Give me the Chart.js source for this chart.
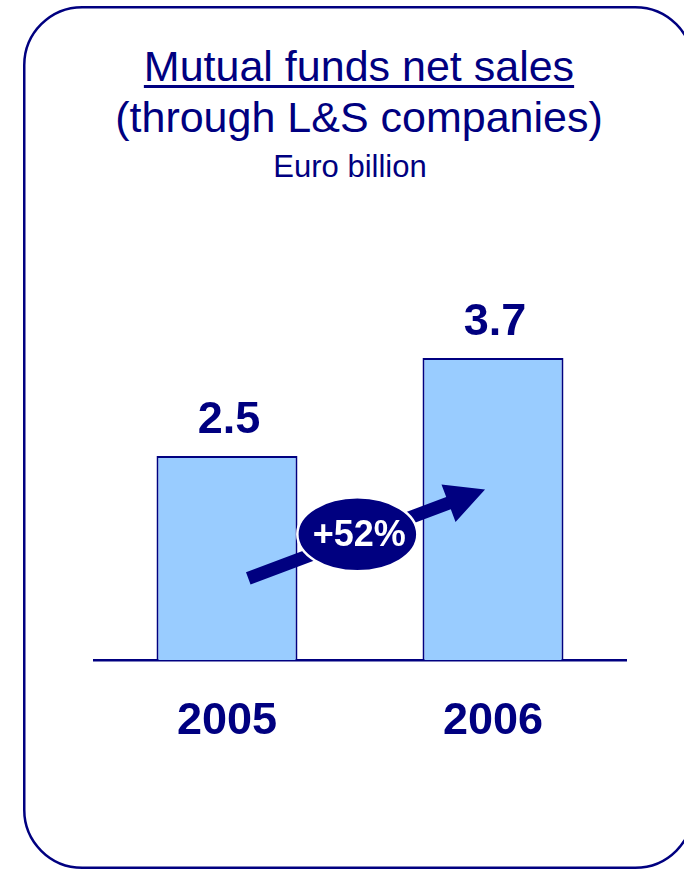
<!DOCTYPE html>
<html>
<head>
<meta charset="utf-8">
<script src="https://cdn.jsdelivr.net/npm/chart.js@4.4.1/dist/chart.umd.min.js"></script>
<style>
  html, body { margin: 0; padding: 0; background: #fff; overflow: hidden; }
  body { width: 684px; height: 869px; position: relative; font-family: Arial, "Liberation Sans", sans-serif; color: #000080; }
  .title {
    position: absolute; left: 0; width: 718px; top: 41px;
    text-align: center; font-size: 43px; line-height: 51px;
  }
  .title u { text-decoration-thickness: 3px; text-underline-offset: 4px; }
  .unit {
    position: absolute; left: 0; width: 700px; top: 151px;
    text-align: center; font-size: 31px; line-height: 31px;
  }
  .wrap { position: absolute; left: 0; top: 0; width: 684px; height: 869px; }
</style>
</head>
<body>
<div class="title"><u>Mutual funds net sales</u><br>(through L&amp;S companies)</div>
<div class="unit">Euro billion</div>
<div class="wrap"><canvas id="salesChart"></canvas></div>
<script>
const years = ['2005', '2006'];
const netSales = [2.5, 3.7];
const growthLabel = '+52%';

const NAVY = '#000080';
const FONT = 'Arial, "Liberation Sans", sans-serif';

// rounded frame round the whole slide box
const frame = {
  id: 'frame',
  beforeDraw(chart) {
    const ctx = chart.ctx;
    ctx.save();
    ctx.strokeStyle = NAVY;
    ctx.lineWidth = 2.5;
    ctx.beginPath();
    ctx.roundRect(24.25, 7.25, 669, 860.5, 58);
    ctx.stroke();
    ctx.restore();
  }
};

// value labels above the bars
const valueLabels = {
  id: 'valueLabels',
  afterDatasetsDraw(chart) {
    const ctx = chart.ctx;
    const meta = chart.getDatasetMeta(0);
    ctx.save();
    ctx.fillStyle = NAVY;
    ctx.font = 'bold 45px ' + FONT;
    ctx.textAlign = 'center';
    ctx.textBaseline = 'alphabetic';
    meta.data.forEach((bar, i) => {
      ctx.fillText(netSales[i].toFixed(1), bar.x + 2, bar.y - 23);
    });
    ctx.restore();
  }
};

// growth arrow with the oval badge on top
const growthArrow = {
  id: 'growthArrow',
  afterDatasetsDraw(chart) {
    const { ctx, scales: { x, y } } = chart;
    const x0 = x.getPixelForValue(0.08), y0 = y.getPixelForValue(1.0);
    const x1 = x.getPixelForValue(0.97), y1 = y.getPixelForValue(2.09);
    const ang = Math.atan2(y1 - y0, x1 - x0);
    const len = Math.hypot(x1 - x0, y1 - y0);
    const headLen = 39, headHalf = 20, shaftHalf = 6.5;

    ctx.save();
    ctx.translate(x0, y0);
    ctx.rotate(ang);
    ctx.fillStyle = NAVY;
    ctx.beginPath();
    ctx.moveTo(0, -shaftHalf);
    ctx.lineTo(len - headLen, -shaftHalf);
    ctx.lineTo(len - headLen, -headHalf);
    ctx.lineTo(len, 0);
    ctx.lineTo(len - headLen, headHalf);
    ctx.lineTo(len - headLen, shaftHalf);
    ctx.lineTo(0, shaftHalf);
    ctx.closePath();
    ctx.fill();
    ctx.restore();

    const cx = x.getPixelForValue(0.49), cy = y.getPixelForValue(1.54);
    ctx.save();
    ctx.beginPath();
    ctx.ellipse(cx, cy, 60, 37, 0, 0, Math.PI * 2);
    ctx.fillStyle = NAVY;
    ctx.fill();
    ctx.lineWidth = 2.5;
    ctx.strokeStyle = '#ffffff';
    ctx.stroke();
    ctx.fillStyle = '#ffffff';
    ctx.font = 'bold 36px ' + FONT;
    ctx.textAlign = 'center';
    ctx.textBaseline = 'middle';
    ctx.fillText(growthLabel, cx + 2, cy + 2);
    ctx.restore();
  }
};

new Chart(document.getElementById('salesChart'), {
  type: 'bar',
  data: {
    labels: years,
    datasets: [{
      data: netSales,
      backgroundColor: '#99CCFF',
      borderColor: NAVY,
      borderWidth: 2,
      categoryPercentage: 1,
      barPercentage: 0.53
    }]
  },
  options: {
    responsive: true,
    maintainAspectRatio: false,
    animation: false,
    layout: { padding: { left: 94, right: 58, top: 252, bottom: 0 } },
    plugins: {
      legend: { display: false },
      tooltip: { enabled: false }
    },
    scales: {
      x: {
        grid: { display: false },
        border: { display: true, color: NAVY, width: 2.5 },
        ticks: {
          color: NAVY,
          font: { family: FONT, size: 45, weight: 'bold' },
          padding: 27
        },
        afterFit: scale => { scale.height = 209; }
      },
      y: {
        display: false,
        min: 0,
        max: 5
      }
    }
  },
  plugins: [frame, valueLabels, growthArrow]
});
</script>
</body>
</html>
